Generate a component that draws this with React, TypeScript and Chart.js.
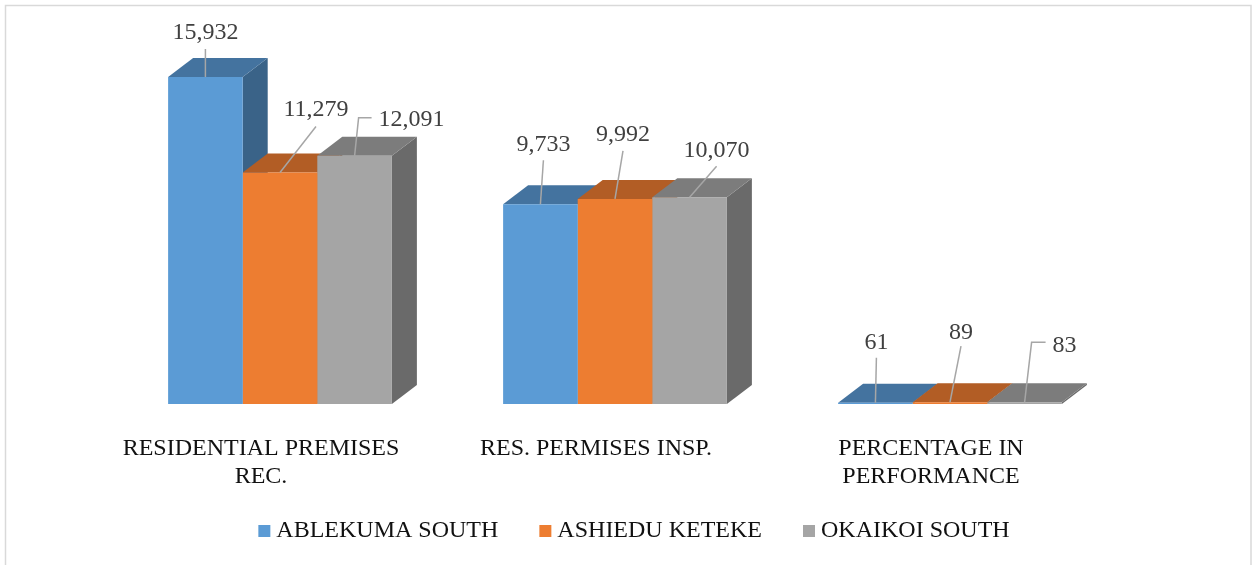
import React, { useEffect, useRef } from "react";
import { Chart, registerables } from "chart.js";

Chart.register(...registerables);

const categories = [["RESIDENTIAL PREMISES", "REC."], "RES. PERMISES INSP.", ["PERCENTAGE IN", "PERFORMANCE"]];
const seriesNames = ["ABLEKUMA SOUTH", "ASHIEDU KETEKE", "OKAIKOI SOUTH"];
const ablekumaSouth = [15932, 9733, 61];
const ashieduKeteke = [11279, 9992, 89];
const okaikoiSouth = [12091, 10070, 83];
const seriesValues = [ablekumaSouth, ashieduKeteke, okaikoiSouth];

const frontColors = ["#5b9bd5", "#ed7d31", "#a5a5a5"];
const topColors = ["#44739f", "#b25d25", "#7c7c7c"];
const sideColors = ["#3a6388", "#9e5321", "#6a6a6a"];

const DEPTH_X = 25;
const DEPTH_Y = 19;
const serif = "'Liberation Serif', 'Times New Roman', serif";

// Data-label placement, relative to the centre of the top front edge of each bar:
// [label dx, label dy, leader points as dx, dy pairs]
const labelLayout: [number, number, [number, number][]][][] = [
  [
    [0, -44, [[0, -28]]],
    [36, -63, [[36, -46]]],
    [57, -36, [[4, -38], [17, -38]]],
  ],
  [
    [3, -60, [[3, -44]]],
    [8, -64, [[8, -48]]],
    [27, -47, [[27, -31]]],
  ],
  [
    [1, -60, [[1, -45]]],
    [11, -69, [[11, -56]]],
    [40, -57, [[7, -60], [21, -60]]],
  ],
];

const threeDPlugin = {
  id: "threeD",
  afterLayout(chart: any) {
    const legend = chart.legend;
    legend.top = 472;
    legend.left += 22;
    legend.right += 22;
  },
  beforeDatasetsDraw(chart: any) {
    const { ctx } = chart;
    ctx.save();
    categories.forEach((_c, i) => {
      seriesValues.forEach((_s, d) => {
        const bar = chart.getDatasetMeta(d).data[i];
        const half = bar.width / 2;
        const l = bar.x - half;
        const r = bar.x + half;
        ctx.fillStyle = sideColors[d];
        ctx.beginPath();
        ctx.moveTo(r, bar.y);
        ctx.lineTo(r + DEPTH_X, bar.y - DEPTH_Y);
        ctx.lineTo(r + DEPTH_X, bar.base - DEPTH_Y);
        ctx.lineTo(r, bar.base);
        ctx.closePath();
        ctx.fill();
        ctx.fillStyle = topColors[d];
        ctx.beginPath();
        ctx.moveTo(l, bar.y);
        ctx.lineTo(l + DEPTH_X, bar.y - DEPTH_Y);
        ctx.lineTo(r + DEPTH_X, bar.y - DEPTH_Y);
        ctx.lineTo(r, bar.y);
        ctx.closePath();
        ctx.fill();
      });
    });
    ctx.restore();
  },
  afterDatasetsDraw(chart: any) {
    const { ctx } = chart;
    ctx.save();
    ctx.font = `24px ${serif}`;
    ctx.textAlign = "center";
    ctx.textBaseline = "middle";
    categories.forEach((_c, i) => {
      seriesValues.forEach((series, d) => {
        const bar = chart.getDatasetMeta(d).data[i];
        const [tx, ty, leader] = labelLayout[i][d];
        ctx.strokeStyle = "#a6a6a6";
        ctx.lineWidth = 1.5;
        ctx.beginPath();
        ctx.moveTo(bar.x, bar.y);
        leader.forEach(([dx, dy]) => ctx.lineTo(bar.x + dx, bar.y + dy));
        ctx.stroke();
        ctx.fillStyle = "#404040";
        ctx.fillText(series[i].toLocaleString("en-US"), bar.x + tx, bar.y + ty);
      });
    });
    ctx.restore();
  },
  beforeDraw(chart: any) {
    const { ctx } = chart;
    ctx.save();
    ctx.strokeStyle = "#d9d9d9";
    ctx.lineWidth = 1.5;
    ctx.strokeRect(5.5, 5.5, 1245.5, 620);
    ctx.restore();
  },
};

export default function App() {
  const ref = useRef<HTMLCanvasElement>(null);
  useEffect(() => {
    const chart = new Chart(ref.current as HTMLCanvasElement, {
      type: "bar",
      data: {
        labels: categories,
        datasets: seriesNames.map((name, d) => ({
          label: name,
          data: seriesValues[d],
          backgroundColor: frontColors[d],
          borderWidth: 0,
          barPercentage: 1,
          categoryPercentage: 0.668,
        })),
      },
      options: {
        responsive: false,
        animation: false,
        layout: { padding: { left: 112.5, right: 136.5, top: 14, bottom: -10 } },
        scales: {
          x: {
            grid: { display: false, drawTicks: false },
            border: { display: false },
            afterFit: (scale: any) => {
              scale.height = 90;
            },
            ticks: {
              autoSkip: false,
              maxRotation: 0,
              minRotation: 0,
              padding: 31,
              labelOffset: -19,
              color: "#111111",
              font: { family: serif, size: 24, lineHeight: 1.167 },
            },
          },
          y: { display: false, min: 0, max: 19000 },
        },
        plugins: {
          tooltip: { enabled: false },
          legend: {
            position: "bottom",
            labels: {
              usePointStyle: true,
              pointStyle: "rect",
              boxWidth: 0.01,
              boxHeight: 12,
              padding: 47,
              color: "#111111",
              font: { family: serif, size: 24 },
            },
          },
        },
      },
      plugins: [threeDPlugin],
    } as any);
    return () => chart.destroy();
  }, []);
  return (
    <div style={{ position: "absolute", left: 0, top: 0, width: 1254, height: 565, overflow: "hidden", background: "#ffffff" }}>
      <canvas ref={ref} width={1254} height={565} style={{ display: "block" }} />
    </div>
  );
}
